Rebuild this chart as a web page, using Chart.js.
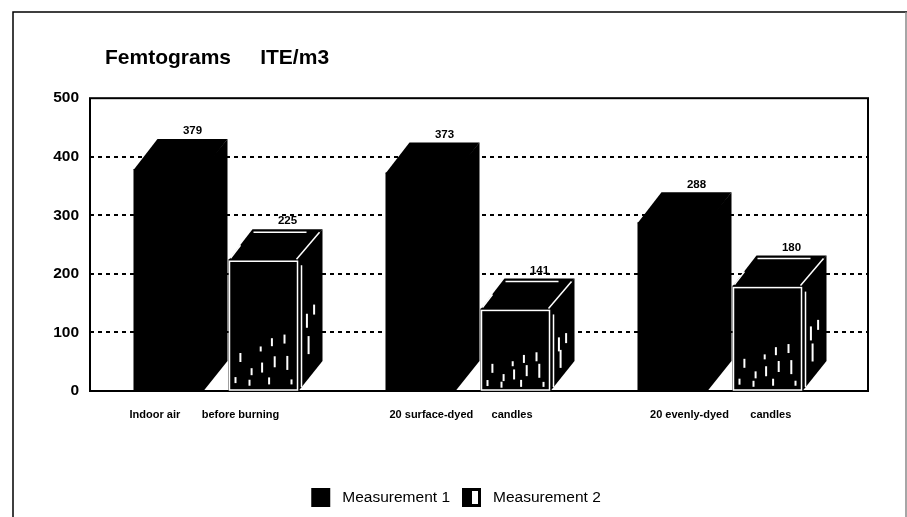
<!DOCTYPE html>
<html>
<head>
<meta charset="utf-8">
<title>Femtograms ITE/m3</title>
<style>
    html, body { margin: 0; padding: 0; background: #fff; }
    canvas { display: block; }
</style>
<script src="https://cdn.jsdelivr.net/npm/chart.js@4/dist/chart.umd.min.js"></script>
</head>
<body>
<canvas id="candleChart" width="907" height="517"></canvas>
<script>
// Chart data
const categories = [
    'Indoor air       before burning',
    '20 surface-dyed      candles',
    '20 evenly-dyed       candles'
];
const measurement1 = [379, 373, 288];
const measurement2 = [225, 141, 180];
const yTicks = [0, 100, 200, 300, 400, 500];
const seriesNames = ['Measurement 1', 'Measurement 2'];
const chartTitle = 'Femtograms     ITE/m3';

// Look of the fake 3D boxes
const depthX = 24;
const depthY = 30;
const plotOverhang = 22;
const fontName = "'Liberation Sans', Arial, sans-serif";

// The original labels are not centred under their groups: spaces before and after
const labelPads = [[0, 3], [0, 0], [5, 0]];

// White scan marks on the second series, as fractions of the front face
const frontSpecks = [
    [0.17, 0.78, 9], [0.33, 0.88, 7], [0.46, 0.70, 5], [0.48, 0.86, 10],
    [0.62, 0.66, 8], [0.66, 0.82, 11], [0.80, 0.64, 9], [0.84, 0.84, 14],
    [0.10, 0.94, 6], [0.30, 0.96, 6], [0.58, 0.95, 7], [0.90, 0.95, 5]
];
const sideSpecks = [[0.35, 0.52, 14], [0.42, 0.72, 18], [0.65, 0.42, 10]];

// Page background and outer frame
function drawBackground(chart) {
    const ctx = chart.ctx;
    ctx.save();
    ctx.fillStyle = '#fff';
    ctx.fillRect(0, 0, chart.width, chart.height);
    ctx.strokeStyle = '#000';
    ctx.lineWidth = 1.5;
    ctx.beginPath();
    ctx.moveTo(13, chart.height);
    ctx.lineTo(13, 12);
    ctx.lineTo(chart.width, 12);
    ctx.stroke();
    ctx.strokeStyle = '#888';
    ctx.beginPath();
    ctx.moveTo(906, 12);
    ctx.lineTo(906, chart.height);
    ctx.stroke();
    ctx.restore();
}

// Dotted grid lines and plot border, wider than the bar area
function drawPlotFrame(chart) {
    const ctx = chart.ctx;
    const area = chart.chartArea;
    const right = area.right + plotOverhang;
    ctx.save();
    ctx.strokeStyle = '#000';
    ctx.lineWidth = 2;
    ctx.setLineDash([4, 4]);
    yTicks.slice(1, -1).forEach(value => {
        const y = Math.round(chart.scales.y.getPixelForValue(value));
        ctx.beginPath();
        ctx.moveTo(area.left, y);
        ctx.lineTo(right, y);
        ctx.stroke();
    });
    ctx.setLineDash([]);
    ctx.strokeRect(area.left, area.top, right - area.left, area.bottom - area.top);
    ctx.restore();
}

function fillPolygon(ctx, points) {
    ctx.beginPath();
    points.forEach((p, i) => (i ? ctx.lineTo(p[0], p[1]) : ctx.moveTo(p[0], p[1])));
    ctx.closePath();
    ctx.fill();
}

function strokeLine(ctx, x1, y1, x2, y2) {
    ctx.beginPath();
    ctx.moveTo(x1, y1);
    ctx.lineTo(x2, y2);
    ctx.stroke();
}

// Top and side faces for one bar, overlapping the front so no seam shows
function drawBoxFaces(ctx, bar) {
    const left = bar.x - bar.width / 2;
    const right = bar.x + bar.width / 2;
    ctx.fillStyle = '#000';
    fillPolygon(ctx, [
        [left, bar.y + 1], [left + depthX, bar.y - depthY],
        [right + depthX, bar.y - depthY], [right, bar.y + 1]
    ]);
    fillPolygon(ctx, [
        [right - 1, bar.y], [right + depthX, bar.y - depthY],
        [right + depthX, bar.base - depthY], [right, bar.base], [right - 1, bar.base]
    ]);
}

// White wire edges and specks used by the second series
function drawBoxTexture(ctx, bar) {
    const left = bar.x - bar.width / 2;
    const right = bar.x + bar.width / 2;
    const height = bar.base - bar.y;
    ctx.strokeStyle = '#fff';
    ctx.lineWidth = 1.5;
    ctx.strokeRect(left + 1, bar.y + 2, bar.width - 2, height - 3);
    strokeLine(ctx, left + 2, bar.y - 1, left + 12, bar.y - 14);
    strokeLine(ctx, right - 2, bar.y, right + depthX - 3, bar.y - depthY + 3);
    strokeLine(ctx, right + 3, bar.y + 6, right + 3, bar.base - 4);
    strokeLine(ctx, left + 25, bar.y - depthY + 3, right + 8, bar.y - depthY + 3);
    ctx.lineWidth = 2;
    frontSpecks.forEach(s => {
        const x = left + s[0] * bar.width;
        strokeLine(ctx, x, bar.y + s[1] * height, x, bar.y + s[1] * height - s[2]);
    });
    sideSpecks.forEach(s => {
        const x = right + s[0] * depthX;
        strokeLine(ctx, x, bar.y + s[1] * height, x, bar.y + s[1] * height - s[2]);
    });
}

// Value labels above the back edge of each box
function drawValueLabels(ctx, bar, value) {
    ctx.fillStyle = '#000';
    ctx.font = 'bold 11.5px ' + fontName;
    ctx.textAlign = 'center';
    ctx.textBaseline = 'middle';
    ctx.fillText(String(value), bar.x + depthX, bar.y - depthY - 8);
}

const boxPlugin = {
    id: 'boxPlugin',
    beforeDraw: drawBackground,
    beforeDatasetsDraw: drawPlotFrame,
    afterLayout(chart) {
        // Title and legend are placed relative to the page, not the bar area
        chart.titleBlock.left = 105;
        chart.legend.left += 33;
        chart.legend.right += 33;
    },
    afterDatasetsDraw(chart) {
        const ctx = chart.ctx;
        ctx.save();
        chart.data.datasets.forEach((dataset, i) => {
            chart.getDatasetMeta(i).data.forEach((bar, j) => {
                drawBoxFaces(ctx, bar);
                if (i === 1) {
                    drawBoxTexture(ctx, bar);
                }
                drawValueLabels(ctx, bar, dataset.data[j]);
            });
        });
        ctx.restore();
    },
    afterDraw(chart) {
        // Light patch in the second legend swatch
        const box = chart.legend.legendHitBoxes[1];
        const ctx = chart.ctx;
        ctx.save();
        ctx.fillStyle = '#fff';
        ctx.fillRect(box.left + 10, box.top + 3, 6, 13);
        ctx.restore();
    }
};

new Chart(document.getElementById('candleChart').getContext('2d'), {
    type: 'bar',
    data: {
        labels: categories,
        datasets: [
            { label: seriesNames[0], data: measurement1, backgroundColor: '#000' },
            { label: seriesNames[1], data: measurement2, backgroundColor: '#000' }
        ]
    },
    options: {
        responsive: false,
        animation: false,
        categoryPercentage: 0.754,
        barPercentage: 0.737,
        layout: { padding: { left: 0, right: 61, top: 0, bottom: 0 } },
        scales: {
            x: {
                afterFit(scale) { scale.height = 85; },
                grid: { display: false, drawTicks: false },
                border: { display: false },
                ticks: {
                    color: '#000',
                    padding: 17,
                    labelOffset: -7,
                    maxRotation: 0,
                    autoSkip: false,
                    callback(value, index) {
                        const pad = labelPads[index];
                        return ' '.repeat(pad[0]) + categories[index] + ' '.repeat(pad[1]);
                    },
                    font: { family: fontName, size: 11, weight: 'bold' }
                }
            },
            y: {
                min: 0,
                max: 500,
                afterFit(scale) { scale.width = 90; },
                afterBuildTicks(scale) { scale.ticks = yTicks.map(value => ({ value })); },
                grid: { display: false, drawTicks: false },
                border: { display: false },
                ticks: {
                    color: '#000',
                    padding: 11,
                    font: { family: fontName, size: 15.5, weight: 'bold' }
                }
            }
        },
        plugins: {
            tooltip: { enabled: false },
            title: {
                display: true,
                text: chartTitle,
                align: 'start',
                color: '#000',
                padding: { top: 46, bottom: 27 },
                font: { family: fontName, size: 21, weight: 'bold', lineHeight: 1.2 }
            },
            legend: {
                display: true,
                position: 'bottom',
                labels: {
                    boxWidth: 19,
                    boxHeight: 19,
                    padding: 12,
                    color: '#000',
                    font: { family: fontName, size: 15.5 },
                    // One leading space widens the gap between swatch and text
                    generateLabels(chart) {
                        return Chart.defaults.plugins.legend.labels.generateLabels(chart)
                            .map(item => ({ ...item, text: ' ' + item.text }));
                    }
                }
            }
        }
    },
    plugins: [boxPlugin]
});
</script>
</body>
</html>
